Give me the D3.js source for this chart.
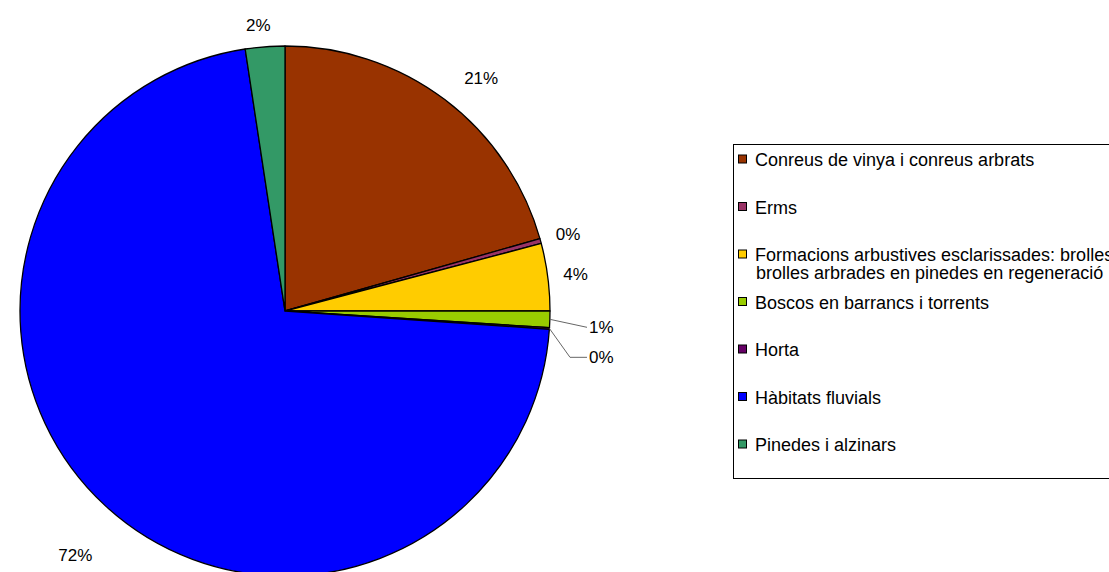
<!DOCTYPE html>
<html>
<head>
<meta charset="utf-8">
<script src="https://cdn.jsdelivr.net/npm/d3@7"></script>
<style>
  html, body { margin: 0; padding: 0; background: #fff; }
  svg { display: block; }
  text { font-family: "Liberation Sans", Arial, sans-serif; fill: #000; }
</style>
</head>
<body>
<div id="chart"></div>
<script>
// Land cover shares (percent of total area)
const categories = [
  "Conreus de vinya i conreus arbrats",
  "Erms",
  "Formacions arbustives esclarissades: brolles i brolles arbrades en pinedes en regeneració",
  "Boscos en barrancs i torrents",
  "Horta",
  "Hàbitats fluvials",
  "Pinedes i alzinars"
];
const values = [20.6, 0.3, 4.1, 1.0, 0.1, 71.5, 2.4];
const colors = ["#993300", "#993366", "#FFCC00", "#99CC00", "#660066", "#0000FF", "#339966"];
// Legend text, one entry per line (the long entry runs past the legend's right edge)
const legendLines = [
  ["Conreus de vinya i conreus arbrats"],
  ["Erms"],
  ["Formacions arbustives esclarissades: brolles", "brolles arbrades en pinedes en regeneració"],
  ["Boscos en barrancs i torrents"],
  ["Horta"],
  ["Hàbitats fluvials"],
  ["Pinedes i alzinars"]
];

// Layout
const W = 1109, H = 572;
const cx = 285, cy = 311, R = 265;
const labelGap = 15;
const labelPush = [9, 0, 0, 0, 0, 26, 0];        // extra radial room for some labels
const labelTurn = [3, 0, 0, 0, 0, -2, -1];       // small angular shift of labels, degrees
const withLeader = new Set(["Boscos en barrancs i torrents", "Horta"]);

const svg = d3.select("#chart").append("svg")
  .attr("width", W).attr("height", H);

const pie = d3.pie().sort(null).value(d => d);
const arcs = pie(values);
const arc = d3.arc().innerRadius(0).outerRadius(R);

const g = svg.append("g").attr("transform", `translate(${cx},${cy})`);

g.selectAll("path.slice")
  .data(arcs)
  .join("path")
  .attr("class", "slice")
  .attr("d", arc)
  .attr("fill", (d, i) => colors[i])
  .attr("stroke", "#000")
  .attr("stroke-width", 1.3)
  .attr("stroke-linejoin", "round");

// Percentage labels
const fmt = v => Math.round(v) + "%";
const labelFont = 17;
let leaderY = null;
arcs.forEach((d, i) => {
  const mid = (d.startAngle + d.endAngle) / 2;
  const t = g.append("text")
    .attr("font-size", labelFont)
    .text(fmt(values[i]));
  const w = t.node().getBBox().width, h = labelFont * 0.72;
  if (withLeader.has(categories[i])) {
    const ex = R * Math.sin(mid), ey = -R * Math.cos(mid);
    const tx = R + 39;
    const ty = leaderY === null ? ey + 8 : leaderY + 30;
    leaderY = ty;
    t.attr("x", tx).attr("y", ty + h / 2).attr("text-anchor", "start");
    const pts = Math.abs(ty - ey) > 12
      ? [[ex, ey], [tx - 19, ty], [tx - 2, ty]]
      : [[ex, ey], [tx - 2, ty]];
    g.append("path")
      .attr("d", d3.line()(pts))
      .attr("fill", "none")
      .attr("stroke", "#666")
      .attr("stroke-width", 1);
  } else {
    const a = mid + labelTurn[i] * Math.PI / 180;
    const ux = Math.sin(a), uy = -Math.cos(a);
    const extra = Math.abs(ux) * w / 2 + Math.abs(uy) * h / 2;
    const r = R + labelGap + labelPush[i] + extra;
    t.attr("x", r * ux).attr("y", r * uy + h / 2).attr("text-anchor", "middle");
  }
});

// Legend
const lg = svg.append("g");
lg.append("rect")
  .attr("x", 733.5).attr("y", 144.5)
  .attr("width", 420).attr("height", 334)
  .attr("fill", "#fff")
  .attr("stroke", "#000").attr("stroke-width", 1);

const legendFont = 18, rowStep = 47.5, firstRow = 159, lineStep = 18.4;
categories.forEach((c, i) => {
  const yc = firstRow + i * rowStep;
  lg.append("rect")
    .attr("x", 738.5).attr("y", yc - 4)
    .attr("width", 8).attr("height", 8)
    .attr("fill", colors[i])
    .attr("stroke", "#000").attr("stroke-width", 1);
  legendLines[i].forEach((line, j) => {
    lg.append("text")
      .attr("x", j === 0 ? 755 : 756)
      .attr("y", yc + 7 + j * lineStep)
      .attr("font-size", legendFont)
      .text(line);
  });
});
</script>
</body>
</html>
